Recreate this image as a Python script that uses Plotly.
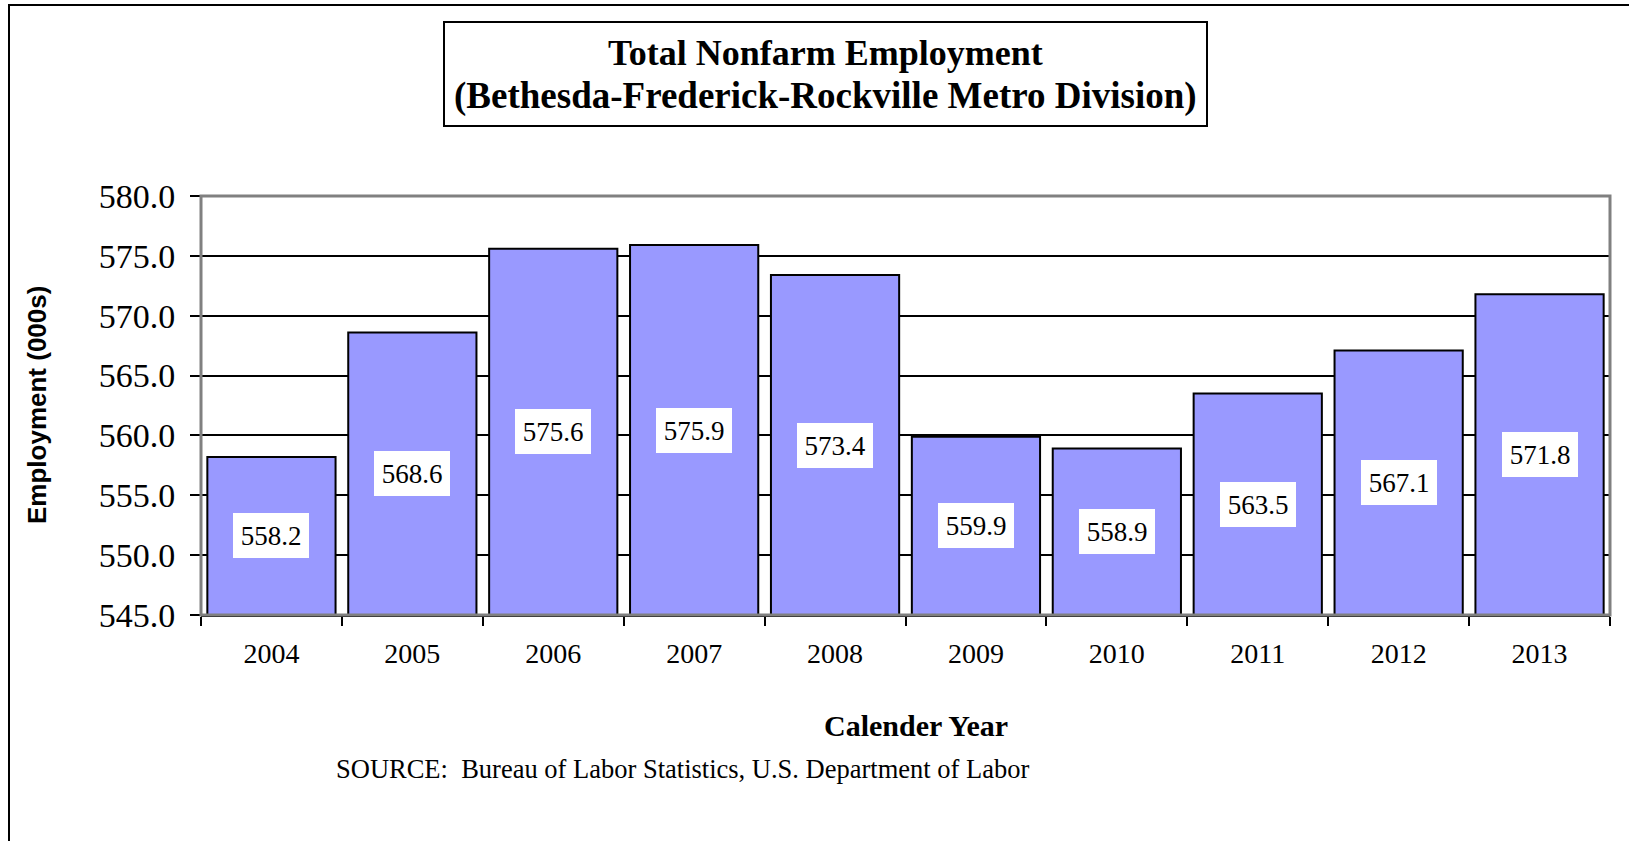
import plotly.graph_objects as go

years = ["2004", "2005", "2006", "2007", "2008", "2009", "2010", "2011", "2012", "2013"]
employment = [558.2, 568.6, 575.6, 575.9, 573.4, 559.9, 558.9, 563.5, 567.1, 571.8]
y_ticks = [545.0, 550.0, 555.0, 560.0, 565.0, 570.0, 575.0, 580.0]
y_min, y_max = 545.0, 580.0

W, H = 1629, 841
ML, MR, MT, MB = 201, 19, 196, 226
PW, PH = W - ML - MR, H - MT - MB
SERIF = "Liberation Serif, Times New Roman, serif"
SANS = "Liberation Sans, Arial, sans-serif"

def px(x):
    return (x - ML) / PW

def py(y):
    return (H - MB - y) / PH

fig = go.Figure()
fig.add_trace(go.Bar(
    x=years, y=[v - y_min for v in employment], base=y_min,
    marker=dict(color="#9999FF", line=dict(color="black", width=2)),
    hoverinfo="skip", showlegend=False,
))

annotations = []
for i, v in enumerate(employment):
    annotations.append(dict(
        x=i, y=(y_min + v) / 2, xref="x", yref="y",
        text=f"{v:.1f}", showarrow=False, xanchor="center", yanchor="middle",
        font=dict(family=SERIF, size=27, color="black"),
        bgcolor="white", bordercolor="white", borderwidth=0,
        width=68, height=37, borderpad=4,
    ))

annotations += [
    dict(x=px(825.5), y=py(53), xref="paper", yref="paper",
         text="<b>Total Nonfarm Employment</b>", showarrow=False,
         font=dict(family=SERIF, size=36, color="black"), xanchor="center", yanchor="middle"),
    dict(x=px(825.5), y=py(96), xref="paper", yref="paper",
         text="<b>(Bethesda-Frederick-Rockville Metro Division)</b>", showarrow=False,
         font=dict(family=SERIF, size=37, color="black"), xanchor="center", yanchor="middle"),
    dict(x=px(37), y=py(405), xref="paper", yref="paper",
         text="<b>Employment (000s)</b>", showarrow=False, textangle=-90,
         font=dict(family=SANS, size=26, color="black"), xanchor="center", yanchor="middle"),
    dict(x=px(916), y=py(725), xref="paper", yref="paper",
         text="<b>Calender Year</b>", showarrow=False,
         font=dict(family=SERIF, size=30, color="black"), xanchor="center", yanchor="middle"),
    dict(x=px(334), y=py(769), xref="paper", yref="paper",
         text="SOURCE:&nbsp; Bureau of Labor Statistics, U.S. Department of Labor", showarrow=False,
         font=dict(family=SERIF, size=26.5, color="black"), xanchor="left", yanchor="middle"),
]

shapes = [
    # outer chart border (only top/left visible)
    dict(type="rect", xref="paper", yref="paper",
         x0=px(9), y0=py(900), x1=px(1700), y1=py(5),
         line=dict(color="black", width=2), layer="below"),
    # title box
    dict(type="rect", xref="paper", yref="paper",
         x0=px(444), y0=py(126), x1=px(1207), y1=py(22),
         line=dict(color="black", width=2), layer="below"),
    # plot frame
    dict(type="rect", xref="paper", yref="paper",
         x0=0, y0=0, x1=1, y1=1,
         line=dict(color="#808080", width=3), layer="above"),
]

fig.update_layout(
    width=W, height=H,
    margin=dict(l=ML, r=MR, t=MT, b=MB),
    paper_bgcolor="white", plot_bgcolor="white",
    bargap=0.09,
    annotations=annotations,
    shapes=shapes,
    showlegend=False,
)
fig.update_xaxes(
    type="category", range=[-0.5, len(years) - 0.5],
    tickson="boundaries", ticks="outside", ticklen=9,
    tickwidth=2, tickcolor="black", showline=True, linecolor="black", linewidth=2,
    tickfont=dict(family=SERIF, size=28, color="black"), showgrid=False,
    tickangle=0, ticklabelstandoff=12,
)
fig.update_yaxes(
    range=[y_min, y_max], tickvals=y_ticks, ticktext=[f"{t:.1f}" for t in y_ticks],
    ticks="outside", ticklen=10, tickwidth=2, tickcolor="black",
    showline=False, showgrid=True, gridcolor="black", gridwidth=2,
    zeroline=False, ticklabelstandoff=8,
    tickfont=dict(family=SERIF, size=34, color="black"),
)

fig.write_html(
    "out.html",
    config={"displayModeBar": False},
    post_script="document.body.style.margin='0px';document.body.style.overflow='hidden';",
)
